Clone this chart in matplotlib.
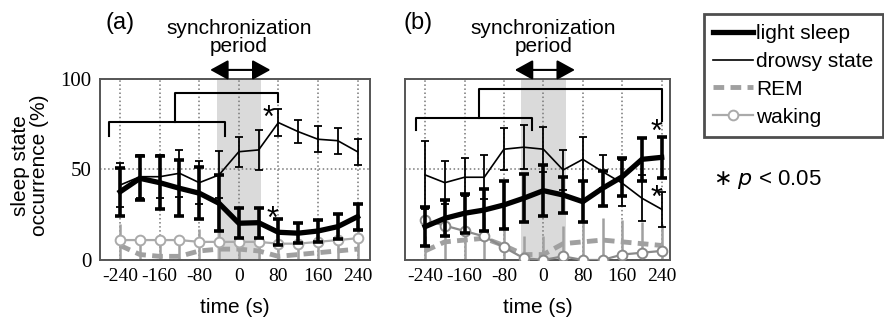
import numpy as np
import matplotlib
matplotlib.use("Agg")
from matplotlib import pyplot as plt

plt.rcParams['font.family'] = ['Liberation Sans', 'DejaVu Sans']
plt.rcParams['axes.unicode_minus'] = False

# dados
time = [-240, -200, -160, -120, -80, -40, 0, 40, 80, 120, 160, 200, 240]
tick_x = [-240, -160, -80, 0, 80, 160, 240]
tick_y = [0, 50, 100]
labels = ["light sleep", "drowsy state", "REM", "waking"]

# painel (a)
light_a = [37.7, 45.1, 42.7, 39.6, 36.9, 31.3, 20.3, 20.6, 15.3, 14.8, 16.0, 18.4, 23.9]
light_a_err = [13.3, 12.2, 14.5, 15.4, 14.5, 15.4, 8.2, 8.2, 7.2, 5.4, 6.3, 6.8, 7.2]
drowsy_a = [41.4, 46.0, 46.0, 47.9, 42.7, 47.0, 59.8, 60.8, 75.9, 70.9, 66.7, 65.9, 59.8]
drowsy_a_err = [12, 12, 12, 13, 12, 13, 8.2, 10.9, 7.5, 6.3, 7.2, 7.2, 7.2]
rem_a = [8, 3, 2, 2, 5, 6, 6, 5, 2, 3, 4, 5, 6]
rem_a_err = [12, 10, 10, 10, 12, 12, 12, 12, 8, 8, 10, 12, 12]
waking_a = [11, 11, 11, 11, 10, 10, 10, 10, 9, 9, 10, 11, 12]

# painel (b)
light_b = [18.4, 23.0, 25.8, 27.6, 30.4, 34.1, 38.3, 35.9, 32.2, 39.6, 46.0, 55.6, 56.7]
light_b_err = [10.9, 10.0, 10.9, 11.5, 13.3, 13.3, 14.2, 10.0, 11.5, 9.7, 10.6, 12.0, 11.5]
drowsy_b = [47.0, 42.7, 45.7, 45.7, 61.2, 62.3, 61.2, 49.7, 55.6, 48.8, 42.4, 34.1, 28.0]
drowsy_b_err = [19.0, 11.8, 10.5, 12.1, 11.6, 12.3, 12.5, 11.0, 12.1, 9.0, 12.7, 12.7, 9.8]
rem_b = [5, 10, 11, 12, 8, 3, 3, 9, 10, 11, 10, 9, 8]
rem_b_err = [8, 10, 12, 12, 12, 10, 10, 10, 12, 12, 12, 12, 12]
waking_b = [22, 19, 16, 13, 7, 1, 0, 2, 0, 0, 3, 4, 5]


# painel: desenha as quatro series de um painel com barras de erro
def painel(ax, light, light_err, drowsy, drowsy_err, rem, rem_err, waking, xmax, cor_w):
    ax.axvspan(-45, 45, color='#dadada', lw=0, zorder=0)
    ax.errorbar(time, rem, yerr=rem_err, color='#a0a0a0', lw=3.5, ls=(0, (2.2, 1.3)),
                elinewidth=1.8, capsize=0, zorder=2)
    ax.plot(time, waking, color=cor_w, lw=1.6, marker='o', ms=7, mfc='white',
            mec=cor_w, mew=1.4, zorder=3)
    ax.errorbar(time, drowsy, yerr=drowsy_err, color='black', lw=1.2,
                elinewidth=1.3, capsize=2.8, capthick=1.3, zorder=4)
    ax.errorbar(time, light, yerr=light_err, color='black', lw=3.8,
                elinewidth=2.6, capsize=3.6, capthick=2.6, zorder=5)

    ax.set_xlim(-281, xmax)
    ax.set_ylim(0, 100)
    ax.set_xticks(tick_x)
    ax.set_yticks(tick_y)
    ax.set_axisbelow(True)
    ax.grid(True, ls=':', color='#777777', lw=1.1)
    ax.tick_params(length=0, pad=6)
    for s in ax.spines.values():
        s.set_color('#555555')
        s.set_linewidth(1.4)
    for t in ax.get_xticklabels():
        t.set_fontfamily('Liberation Serif')
        t.set_fontsize(14)
    ax.set_xlabel("time (s)", fontsize=15, labelpad=9)

    # seta e texto do periodo de sincronizacao
    ax.annotate('', xy=(64, 105), xytext=(-58, 105), annotation_clip=False,
                arrowprops=dict(arrowstyle='<|-|>,head_length=1.0,head_width=0.55',
                                color='black', lw=1.5, mutation_scale=11,
                                shrinkA=0, shrinkB=0))
    ax.text(0, 123, "synchronization\nperiod", ha='center', va='center',
            fontsize=15, linespacing=0.95)


# colchete: desenha uma linha de comparacao estatistica acima das curvas
def colchete(ax, xs, ys):
    ax.plot(xs, ys, color='black', lw=1.5, clip_on=False, zorder=6)


fig = plt.figure(figsize=(8.84, 3.27), dpi=100)
ax_a = fig.add_axes([0.113, 0.205, 0.3054, 0.5535])
ax_b = fig.add_axes([0.458, 0.205, 0.300, 0.5535])

painel(ax_a, light_a, light_a_err, drowsy_a, drowsy_a_err, rem_a, rem_a_err,
       waking_a, 265, '#aaaaaa')
painel(ax_b, light_b, light_b_err, drowsy_b, drowsy_b_err, rem_b, rem_b_err,
       waking_b, 257, '#8a8a8a')

for t in ax_a.get_yticklabels():
    t.set_fontfamily('Liberation Serif')
    t.set_fontsize(15)
ax_b.set_yticklabels([])

# colchetes e asteriscos (a)
colchete(ax_a, [-262, -262, -28, -28], [68.5, 76.4, 76.4, 68.5])
colchete(ax_a, [-130, -130, 80, 80], [76.4, 92.1, 92.1, 87.0])
ax_a.text(59, 78, "*", fontsize=22, ha='center', va='center')
ax_a.text(68, 22, "*", fontsize=22, ha='center', va='center')

# colchetes e asteriscos (b)
colchete(ax_b, [-258, -258, -24, -24], [71.8, 78.3, 78.3, 71.8])
colchete(ax_b, [-130, -130, 240, 240], [78.3, 94.3, 94.3, 77.0])
ax_b.text(229, 70, "*", fontsize=22, ha='center', va='center')
ax_b.text(229, 34, "*", fontsize=22, ha='center', va='center')

fig.text(0.119, 0.93, "(a)", fontsize=17, ha='left', va='center')
fig.text(0.456, 0.93, "(b)", fontsize=17, ha='left', va='center')
fig.text(0.034, 0.495, "sleep state\noccurrence (%)", rotation=90, ha='center',
         va='center', fontsize=15, linespacing=1.0)

# legenda montada a partir das linhas do painel (a)
hs = [ax_a.containers[2][0], ax_a.containers[1][0], ax_a.containers[0][0]]
hs.append([l for l in ax_a.lines if l.get_marker() == 'o'][0])
leg = fig.legend(hs, labels, loc='upper left', bbox_to_anchor=(0.796, 0.957),
                 fontsize=15, frameon=True, fancybox=False, handlelength=1.9,
                 handletextpad=0.15, labelspacing=0.43, borderpad=0.47,
                 borderaxespad=0)
leg.get_frame().set_edgecolor('#222222')
leg.get_frame().set_linewidth(2)

fig.text(0.806, 0.45, r"$\ast$ $p$ < 0.05", fontsize=16, ha='left', va='center')

fig.savefig("out.png", dpi=100)
